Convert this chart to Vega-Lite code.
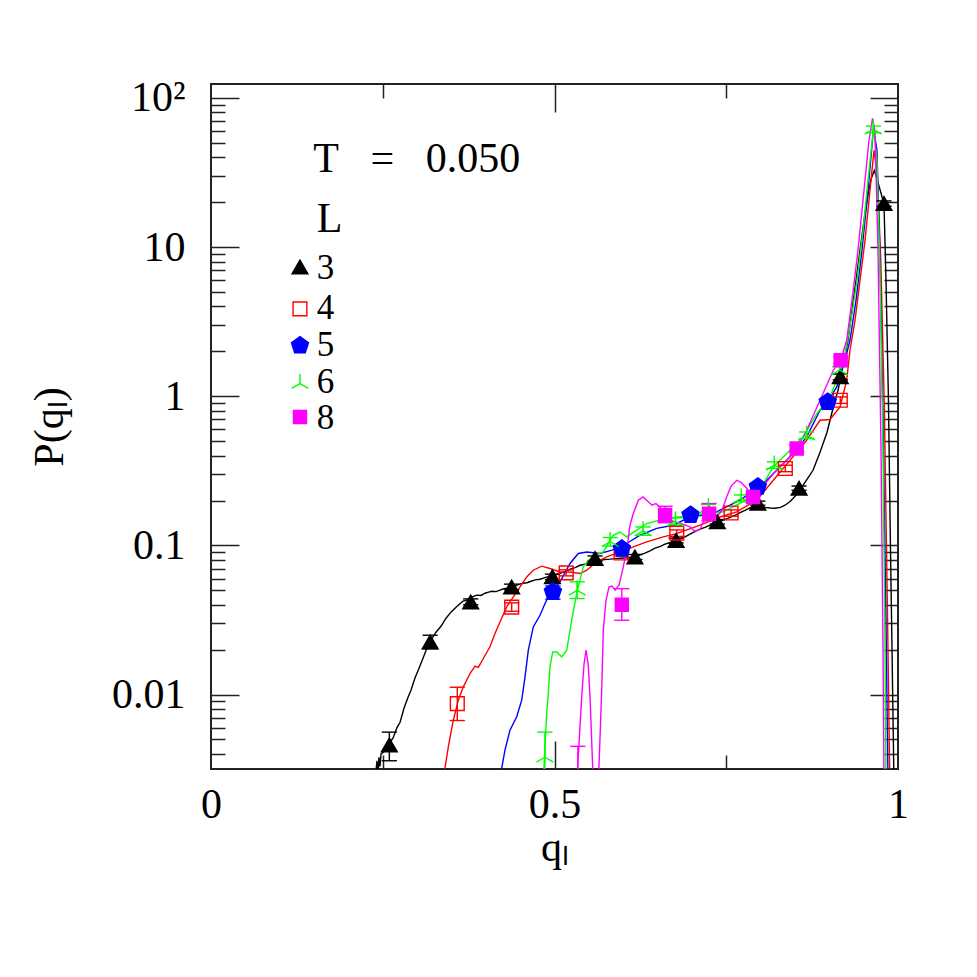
{
  "$schema": "https://vega.github.io/schema/vega-lite/v6.json",
  "width": 687,
  "height": 685,
  "autosize": {"type": "none"},
  "padding": {"left": 211, "top": 84, "right": 79, "bottom": 208},
  "background": "white",
  "config": {
    "view": {"stroke": "#222222", "strokeWidth": 2},
    "axis": {"domain": false, "grid": false, "tickColor": "#222222", "tickWidth": 1.5, "labelFont": "Liberation Serif", "titleFont": "Liberation Serif", "labelColor": "#000000", "titleColor": "#000000", "titleFontWeight": "normal", "labelOverlap": false, "labelFlush": false, "labelBound": false}
  },
  "datasets": {
    "curves": [
      {"L":"3","q":0.2390,"P":0.0025},{"L":"3","q":0.2402,"P":0.0031},{"L":"3","q":0.2416,"P":0.0036},{"L":"3","q":0.2430,"P":0.0029},{"L":"3","q":0.2445,"P":0.0038},{"L":"3","q":0.2460,"P":0.0033},{"L":"3","q":0.2475,"P":0.0040},{"L":"3","q":0.2510,"P":0.0041},{"L":"3","q":0.2547,"P":0.0043},{"L":"3","q":0.2606,"P":0.0048},{"L":"3","q":0.2649,"P":0.0051},{"L":"3","q":0.2707,"P":0.0060},{"L":"3","q":0.2751,"P":0.0065},{"L":"3","q":0.2809,"P":0.0081},{"L":"3","q":0.2868,"P":0.0096},{"L":"3","q":0.2911,"P":0.0107},{"L":"3","q":0.2969,"P":0.0129},{"L":"3","q":0.3028,"P":0.0150},{"L":"3","q":0.3086,"P":0.0175},{"L":"3","q":0.3144,"P":0.0205},{"L":"3","q":0.3202,"P":0.0232},{"L":"3","q":0.3275,"P":0.0262},{"L":"3","q":0.3348,"P":0.0287},{"L":"3","q":0.3421,"P":0.0325},{"L":"3","q":0.3493,"P":0.0357},{"L":"3","q":0.3581,"P":0.0391},{"L":"3","q":0.3668,"P":0.0423},{"L":"3","q":0.3720,"P":0.0430},{"L":"3","q":0.3770,"P":0.0443},{"L":"3","q":0.3820,"P":0.0455},{"L":"3","q":0.3872,"P":0.0464},{"L":"3","q":0.3930,"P":0.0462},{"L":"3","q":0.3988,"P":0.0478},{"L":"3","q":0.4040,"P":0.0486},{"L":"3","q":0.4090,"P":0.0493},{"L":"3","q":0.4150,"P":0.0490},{"L":"3","q":0.4207,"P":0.0501},{"L":"3","q":0.4260,"P":0.0512},{"L":"3","q":0.4323,"P":0.0516},{"L":"3","q":0.4380,"P":0.0522},{"L":"3","q":0.4425,"P":0.0533},{"L":"3","q":0.4480,"P":0.0548},{"L":"3","q":0.4541,"P":0.0558},{"L":"3","q":0.4600,"P":0.0562},{"L":"3","q":0.4658,"P":0.0575},{"L":"3","q":0.4720,"P":0.0588},{"L":"3","q":0.4789,"P":0.0593},{"L":"3","q":0.4860,"P":0.0608},{"L":"3","q":0.4934,"P":0.0622},{"L":"3","q":0.5000,"P":0.0630},{"L":"3","q":0.5080,"P":0.0651},{"L":"3","q":0.5150,"P":0.0668},{"L":"3","q":0.5226,"P":0.0692},{"L":"3","q":0.5300,"P":0.0710},{"L":"3","q":0.5371,"P":0.0736},{"L":"3","q":0.5440,"P":0.0748},{"L":"3","q":0.5517,"P":0.0771},{"L":"3","q":0.5590,"P":0.0790},{"L":"3","q":0.5662,"P":0.0796},{"L":"3","q":0.5730,"P":0.0805},{"L":"3","q":0.5808,"P":0.0809},{"L":"3","q":0.5880,"P":0.0815},{"L":"3","q":0.5953,"P":0.0821},{"L":"3","q":0.6050,"P":0.0826},{"L":"3","q":0.6143,"P":0.0834},{"L":"3","q":0.6230,"P":0.0858},{"L":"3","q":0.6317,"P":0.0887},{"L":"3","q":0.6390,"P":0.0920},{"L":"3","q":0.6463,"P":0.0958},{"L":"3","q":0.6540,"P":0.0985},{"L":"3","q":0.6608,"P":0.1019},{"L":"3","q":0.6700,"P":0.1050},{"L":"3","q":0.6783,"P":0.1084},{"L":"3","q":0.6880,"P":0.1130},{"L":"3","q":0.6972,"P":0.1189},{"L":"3","q":0.7050,"P":0.1240},{"L":"3","q":0.7118,"P":0.1285},{"L":"3","q":0.7190,"P":0.1320},{"L":"3","q":0.7263,"P":0.1366},{"L":"3","q":0.7330,"P":0.1410},{"L":"3","q":0.7409,"P":0.1452},{"L":"3","q":0.7520,"P":0.1520},{"L":"3","q":0.7627,"P":0.1592},{"L":"3","q":0.7700,"P":0.1660},{"L":"3","q":0.7773,"P":0.1720},{"L":"3","q":0.7850,"P":0.1790},{"L":"3","q":0.7918,"P":0.1830},{"L":"3","q":0.8000,"P":0.1820},{"L":"3","q":0.8064,"P":0.1800},{"L":"3","q":0.8140,"P":0.1780},{"L":"3","q":0.8210,"P":0.1775},{"L":"3","q":0.8290,"P":0.1800},{"L":"3","q":0.8355,"P":0.1860},{"L":"3","q":0.8430,"P":0.1970},{"L":"3","q":0.8501,"P":0.2137},{"L":"3","q":0.8570,"P":0.2350},{"L":"3","q":0.8646,"P":0.2650},{"L":"3","q":0.8763,"P":0.3190},{"L":"3","q":0.8865,"P":0.4215},{"L":"3","q":0.8967,"P":0.5740},{"L":"3","q":0.9054,"P":0.8310},{"L":"3","q":0.9127,"P":1.097},{"L":"3","q":0.9199,"P":1.614},{"L":"3","q":0.9272,"P":2.374},{"L":"3","q":0.9330,"P":3.77},{"L":"3","q":0.9389,"P":5.99},{"L":"3","q":0.9447,"P":9.52},{"L":"3","q":0.9505,"P":15.1},{"L":"3","q":0.9563,"P":22.2},{"L":"3","q":0.9607,"P":28.5},{"L":"3","q":0.9656,"P":32.7},{"L":"3","q":0.9720,"P":26.0},{"L":"3","q":0.9796,"P":19.6},{"L":"3","q":0.9825,"P":6.0},{"L":"3","q":0.9860,"P":1.0},{"L":"3","q":0.9890,"P":0.10},{"L":"3","q":0.9913,"P":0.020},{"L":"3","q":0.9940,"P":0.0028},
      {"L":"4","q":0.3390,"P":0.0025},{"L":"4","q":0.3406,"P":0.0032},{"L":"4","q":0.3454,"P":0.00446},{"L":"4","q":0.3527,"P":0.00673},{"L":"4","q":0.3600,"P":0.00917},{"L":"4","q":0.3673,"P":0.01127},{"L":"4","q":0.3770,"P":0.01384},{"L":"4","q":0.3843,"P":0.0155},{"L":"4","q":0.3891,"P":0.0152},{"L":"4","q":0.3964,"P":0.01746},{"L":"4","q":0.4061,"P":0.0209},{"L":"4","q":0.4134,"P":0.0257},{"L":"4","q":0.4207,"P":0.0307},{"L":"4","q":0.4304,"P":0.0387},{"L":"4","q":0.4400,"P":0.0452},{"L":"4","q":0.4498,"P":0.0527},{"L":"4","q":0.4595,"P":0.0615},{"L":"4","q":0.4691,"P":0.0682},{"L":"4","q":0.4814,"P":0.0726},{"L":"4","q":0.4934,"P":0.0700},{"L":"4","q":0.5080,"P":0.0664},{"L":"4","q":0.5226,"P":0.0664},{"L":"4","q":0.5371,"P":0.0648},{"L":"4","q":0.5469,"P":0.0682},{"L":"4","q":0.5614,"P":0.0775},{"L":"4","q":0.5760,"P":0.0837},{"L":"4","q":0.5953,"P":0.0904},{"L":"4","q":0.6147,"P":0.0977},{"L":"4","q":0.6342,"P":0.1055},{"L":"4","q":0.6584,"P":0.114},{"L":"4","q":0.6779,"P":0.120},{"L":"4","q":0.7118,"P":0.1366},{"L":"4","q":0.7409,"P":0.155},{"L":"4","q":0.7652,"P":0.168},{"L":"4","q":0.7943,"P":0.201},{"L":"4","q":0.8185,"P":0.2735},{"L":"4","q":0.8428,"P":0.3724},{"L":"4","q":0.8671,"P":0.507},{"L":"4","q":0.8865,"P":0.690},{"L":"4","q":0.9010,"P":0.698},{"L":"4","q":0.9156,"P":0.848},{"L":"4","q":0.9253,"P":1.28},{"L":"4","q":0.9301,"P":2.03},{"L":"4","q":0.9374,"P":3.23},{"L":"4","q":0.9447,"P":5.99},{"L":"4","q":0.9520,"P":11.1},{"L":"4","q":0.9592,"P":24.0},{"L":"4","q":0.9651,"P":44.6},{"L":"4","q":0.9700,"P":30.0},{"L":"4","q":0.9750,"P":8.0},{"L":"4","q":0.9800,"P":0.9},{"L":"4","q":0.9845,"P":0.04},{"L":"4","q":0.9880,"P":0.0028},
      {"L":"5","q":0.4221,"P":0.0026},{"L":"5","q":0.4231,"P":0.0032},{"L":"5","q":0.4279,"P":0.00424},{"L":"5","q":0.4352,"P":0.00577},{"L":"5","q":0.4450,"P":0.0071},{"L":"5","q":0.4523,"P":0.00917},{"L":"5","q":0.4571,"P":0.01315},{"L":"5","q":0.4619,"P":0.01985},{"L":"5","q":0.4691,"P":0.0284},{"L":"5","q":0.4789,"P":0.0340},{"L":"5","q":0.4862,"P":0.0408},{"L":"5","q":0.4934,"P":0.0476},{"L":"5","q":0.5080,"P":0.0569},{"L":"5","q":0.5226,"P":0.0757},{"L":"5","q":0.5346,"P":0.0883},{"L":"5","q":0.5469,"P":0.0904},{"L":"5","q":0.5662,"P":0.0883},{"L":"5","q":0.5837,"P":0.0929},{"L":"5","q":0.6051,"P":0.103},{"L":"5","q":0.6245,"P":0.117},{"L":"5","q":0.6488,"P":0.130},{"L":"5","q":0.6729,"P":0.1366},{"L":"5","q":0.6972,"P":0.155},{"L":"5","q":0.7312,"P":0.1637},{"L":"5","q":0.7700,"P":0.201},{"L":"5","q":0.7991,"P":0.2466},{"L":"5","q":0.8234,"P":0.319},{"L":"5","q":0.8476,"P":0.413},{"L":"5","q":0.8671,"P":0.534},{"L":"5","q":0.8865,"P":0.805},{"L":"5","q":0.8977,"P":0.916},{"L":"5","q":0.9108,"P":1.154},{"L":"5","q":0.9229,"P":1.742},{"L":"5","q":0.9301,"P":2.374},{"L":"5","q":0.9389,"P":4.40},{"L":"5","q":0.9476,"P":9.52},{"L":"5","q":0.9563,"P":24.0},{"L":"5","q":0.9643,"P":62.0},{"L":"5","q":0.9694,"P":44.6},{"L":"5","q":0.9738,"P":8.16},{"L":"5","q":0.9782,"P":0.69},{"L":"5","q":0.9825,"P":0.0315},{"L":"5","q":0.9854,"P":0.0028},
      {"L":"6","q":0.4840,"P":0.0026},{"L":"6","q":0.4847,"P":0.00328},{"L":"6","q":0.4886,"P":0.00747},{"L":"6","q":0.4910,"P":0.01016},{"L":"6","q":0.4934,"P":0.01534},{"L":"6","q":0.4974,"P":0.0193},{"L":"6","q":0.5032,"P":0.0193},{"L":"6","q":0.5105,"P":0.0179},{"L":"6","q":0.5178,"P":0.01985},{"L":"6","q":0.5250,"P":0.0315},{"L":"6","q":0.5323,"P":0.0476},{"L":"6","q":0.5371,"P":0.0585},{"L":"6","q":0.5419,"P":0.0718},{"L":"6","q":0.5492,"P":0.0796},{"L":"6","q":0.5590,"P":0.0859},{"L":"6","q":0.5710,"P":0.0904},{"L":"6","q":0.5856,"P":0.117},{"L":"6","q":0.5953,"P":0.123},{"L":"6","q":0.6051,"P":0.114},{"L":"6","q":0.6197,"P":0.1265},{"L":"6","q":0.6342,"P":0.140},{"L":"6","q":0.6536,"P":0.148},{"L":"6","q":0.6779,"P":0.1545},{"L":"6","q":0.7020,"P":0.1592},{"L":"6","q":0.7215,"P":0.1637},{"L":"6","q":0.7457,"P":0.168},{"L":"6","q":0.7700,"P":0.191},{"L":"6","q":0.7894,"P":0.223},{"L":"6","q":0.8039,"P":0.260},{"L":"6","q":0.8185,"P":0.336},{"L":"6","q":0.8380,"P":0.413},{"L":"6","q":0.8622,"P":0.534},{"L":"6","q":0.8817,"P":0.766},{"L":"6","q":0.9010,"P":0.989},{"L":"6","q":0.9108,"P":1.28},{"L":"6","q":0.9229,"P":1.93},{"L":"6","q":0.9316,"P":3.23},{"L":"6","q":0.9403,"P":5.99},{"L":"6","q":0.9491,"P":12.97},{"L":"6","q":0.9563,"P":28.0},{"L":"6","q":0.9643,"P":62.5},{"L":"6","q":0.9694,"P":38.2},{"L":"6","q":0.9738,"P":7.0},{"L":"6","q":0.9782,"P":0.435},{"L":"6","q":0.9811,"P":0.0199},{"L":"6","q":0.9825,"P":0.0028},
      {"L":"8","q":0.5323,"P":0.0025},{"L":"8","q":0.5396,"P":0.00966},{"L":"8","q":0.5430,"P":0.0160},{"L":"8","q":0.5459,"P":0.0199},{"L":"8","q":0.5490,"P":0.0160},{"L":"8","q":0.5517,"P":0.00966},{"L":"8","q":0.5565,"P":0.0025},{"L":"8","q":0.5638,"P":0.0025},{"L":"8","q":0.5687,"P":0.0107},{"L":"8","q":0.5710,"P":0.0270},{"L":"8","q":0.5750,"P":0.0429},{"L":"8","q":0.5793,"P":0.0525},{"L":"8","q":0.5837,"P":0.0533},{"L":"8","q":0.5881,"P":0.0501},{"L":"8","q":0.5939,"P":0.0541},{"L":"8","q":0.6001,"P":0.0718},{"L":"8","q":0.6051,"P":0.0929},{"L":"8","q":0.6099,"P":0.1366},{"L":"8","q":0.6147,"P":0.1637},{"L":"8","q":0.6220,"P":0.201},{"L":"8","q":0.6288,"P":0.2113},{"L":"8","q":0.6365,"P":0.196},{"L":"8","q":0.6419,"P":0.186},{"L":"8","q":0.6477,"P":0.191},{"L":"8","q":0.6536,"P":0.180},{"L":"8","q":0.6608,"P":0.159},{"L":"8","q":0.6729,"P":0.145},{"L":"8","q":0.6827,"P":0.141},{"L":"8","q":0.6972,"P":0.133},{"L":"8","q":0.7045,"P":0.1245},{"L":"8","q":0.7118,"P":0.1285},{"L":"8","q":0.7191,"P":0.152},{"L":"8","q":0.7253,"P":0.1637},{"L":"8","q":0.7361,"P":0.155},{"L":"8","q":0.7438,"P":0.172},{"L":"8","q":0.7506,"P":0.2113},{"L":"8","q":0.7569,"P":0.249},{"L":"8","q":0.7652,"P":0.2735},{"L":"8","q":0.7715,"P":0.265},{"L":"8","q":0.7798,"P":0.2417},{"L":"8","q":0.7894,"P":0.2113},{"L":"8","q":0.7991,"P":0.2344},{"L":"8","q":0.8185,"P":0.303},{"L":"8","q":0.8380,"P":0.3724},{"L":"8","q":0.8525,"P":0.446},{"L":"8","q":0.8671,"P":0.592},{"L":"8","q":0.8865,"P":0.94},{"L":"8","q":0.9058,"P":1.494},{"L":"8","q":0.9166,"P":1.742},{"L":"8","q":0.9253,"P":2.374},{"L":"8","q":0.9330,"P":4.40},{"L":"8","q":0.9418,"P":9.52},{"L":"8","q":0.9505,"P":24.0},{"L":"8","q":0.9578,"P":52.0},{"L":"8","q":0.9629,"P":73.0},{"L":"8","q":0.9665,"P":60.0},{"L":"8","q":0.9709,"P":9.52},{"L":"8","q":0.9753,"P":0.435},{"L":"8","q":0.9782,"P":0.0199},{"L":"8","q":0.9796,"P":0.0025}
    ],
    "pts": [
      {"L":"3","q":0.2596,"P":0.0046,"lo":0.0036,"hi":0.0056},
      {"L":"3","q":0.3190,"P":0.0225,"lo":0.0203,"hi":0.0250},
      {"L":"3","q":0.3780,"P":0.0418,"lo":0.0400,"hi":0.0438},
      {"L":"3","q":0.4376,"P":0.0527,"lo":0.0505,"hi":0.0550},
      {"L":"3","q":0.4970,"P":0.0616,"lo":0.0590,"hi":0.0642},
      {"L":"3","q":0.5590,"P":0.0817,"lo":0.0785,"hi":0.0850},
      {"L":"3","q":0.6170,"P":0.0837,"lo":0.0805,"hi":0.0870},
      {"L":"3","q":0.6770,"P":0.108,"lo":0.104,"hi":0.112},
      {"L":"3","q":0.7370,"P":0.144,"lo":0.139,"hi":0.149},
      {"L":"3","q":0.7960,"P":0.192,"lo":0.186,"hi":0.198},
      {"L":"3","q":0.8560,"P":0.242,"lo":0.234,"hi":0.250},
      {"L":"3","q":0.9160,"P":1.35,"lo":1.29,"hi":1.41},
      {"L":"3","q":0.9796,"P":19.6,"lo":18.8,"hi":20.4},
      {"L":"4","q":0.3585,"P":0.0087,"lo":0.0067,"hi":0.0112},
      {"L":"4","q":0.4377,"P":0.0386,"lo":0.0362,"hi":0.0412},
      {"L":"4","q":0.5170,"P":0.0655,"lo":0.0625,"hi":0.0686},
      {"L":"4","q":0.5970,"P":0.0890,"lo":0.0850,"hi":0.0930},
      {"L":"4","q":0.6780,"P":0.121,"lo":0.115,"hi":0.127},
      {"L":"4","q":0.7570,"P":0.165,"lo":0.157,"hi":0.173},
      {"L":"4","q":0.8360,"P":0.328,"lo":0.312,"hi":0.345},
      {"L":"4","q":0.9160,"P":0.94,"lo":0.895,"hi":0.99},
      {"L":"5","q":0.4977,"P":0.0488,"lo":0.0436,"hi":0.0535},
      {"L":"5","q":0.5980,"P":0.095,"lo":0.090,"hi":0.100},
      {"L":"5","q":0.6980,"P":0.160,"lo":0.153,"hi":0.168},
      {"L":"5","q":0.7960,"P":0.247,"lo":0.236,"hi":0.258},
      {"L":"5","q":0.8977,"P":0.916,"lo":0.875,"hi":0.96},
      {"L":"6","q":0.4860,"P":0.0038,"lo":0.0025,"hi":0.0056},
      {"L":"6","q":0.5330,"P":0.050,"lo":0.044,"hi":0.057},
      {"L":"6","q":0.5810,"P":0.106,"lo":0.099,"hi":0.113},
      {"L":"6","q":0.6290,"P":0.125,"lo":0.117,"hi":0.133},
      {"L":"6","q":0.6760,"P":0.145,"lo":0.137,"hi":0.153},
      {"L":"6","q":0.7240,"P":0.178,"lo":0.169,"hi":0.188},
      {"L":"6","q":0.7720,"P":0.207,"lo":0.196,"hi":0.218},
      {"L":"6","q":0.8200,"P":0.345,"lo":0.328,"hi":0.363},
      {"L":"6","q":0.8670,"P":0.548,"lo":0.521,"hi":0.576},
      {"L":"6","q":0.9150,"P":1.50,"lo":1.42,"hi":1.58},
      {"L":"6","q":0.9640,"P":61.6,"lo":58.5,"hi":64.8},
      {"L":"8","q":0.5340,"P":0.0025,"lo":0.0015,"hi":0.0045},
      {"L":"8","q":0.5980,"P":0.040,"lo":0.0315,"hi":0.0513},
      {"L":"8","q":0.6610,"P":0.160,"lo":0.142,"hi":0.183},
      {"L":"8","q":0.7250,"P":0.163,"lo":0.146,"hi":0.191},
      {"L":"8","q":0.7890,"P":0.211,"lo":0.200,"hi":0.222},
      {"L":"8","q":0.8525,"P":0.446,"lo":0.425,"hi":0.468},
      {"L":"8","q":0.9166,"P":1.742,"lo":1.66,"hi":1.83}
    ],
    "legendSymbols": [
      {"L":"3","q":0.1295,"P":7.36},
      {"L":"4","q":0.1295,"P":3.85},
      {"L":"5","q":0.1295,"P":2.187},
      {"L":"6","q":0.1295,"P":1.216},
      {"L":"8","q":0.1295,"P":0.727}
    ],
    "legendHead": [
      {"q":0.1489,"P":38.7,"label":"T\u00a0\u00a0\u00a0=\u00a0\u00a0\u00a00.050"},
      {"q":0.1538,"P":15.5,"label":"L"}
    ],
    "legendDigits": [
      {"q":0.1538,"P":7.21,"label":"3"},
      {"q":0.1538,"P":3.89,"label":"4"},
      {"q":0.1538,"P":2.197,"label":"5"},
      {"q":0.1538,"P":1.241,"label":"6"},
      {"q":0.1538,"P":0.712,"label":"8"}
    ]
  },
  "resolve": {"axis": {"x": "independent", "y": "independent"}},
  "layer": [
    {
      "data": {"name": "curves"},
      "mark": {"type": "line", "clip": true, "strokeWidth": 1.4},
      "encoding": {
        "x": {"field": "q", "type": "quantitative", "scale": {"domain": [0, 1], "nice": false, "zero": false},
          "axis": {"orient": "bottom", "values": [0, 0.5, 1], "ticks": false, "tickSize": 0, "labelPadding": 15, "labelFontSize": 42, "labelExpr": "datum.value == 0 ? '0' : datum.value == 1 ? '1' : '0.5'", "title": "qₗ", "titleFontSize": 42, "titlePadding": 2}},
        "y": {"field": "P", "type": "quantitative", "scale": {"type": "log", "domain": [0.00317, 124], "nice": false},
          "axis": {"orient": "left", "values": [0.01, 0.1, 1, 10, 100], "ticks": false, "tickSize": 0, "labelPadding": 26, "labelFontSize": 42, "labelExpr": "datum.value > 50 ? '10²' : datum.value > 5 ? '10' : datum.value > 0.5 ? '1' : datum.value > 0.05 ? '0.1' : '0.01'", "title": "P(qₗ)", "titleFontSize": 42, "titlePadding": 40}},
        "stroke": {"field": "L", "type": "nominal", "scale": {"domain": ["3", "4", "5", "6", "8"], "range": ["#000000", "#ff0000", "#0000ff", "#00ff00", "#ff00ff"]}, "legend": null}
      }
    },
    {
      "data": {"name": "pts"},
      "mark": {"type": "rule", "clip": true, "strokeWidth": 1.4},
      "encoding": {
        "x": {"field": "q", "type": "quantitative", "scale": {"domain": [0, 1], "nice": false, "zero": false},
          "axis": {"orient": "bottom", "values": [0.5], "labels": false, "ticks": true, "tickSize": -28, "title": null}},
        "y": {"field": "lo", "type": "quantitative", "scale": {"type": "log", "domain": [0.00317, 124], "nice": false},
          "axis": {"orient": "left", "values": [0.01, 0.1, 1, 10, 100], "labels": false, "ticks": true, "tickSize": -28, "title": null}},
        "y2": {"field": "hi"},
        "stroke": {"field": "L", "type": "nominal", "scale": {"domain": ["3", "4", "5", "6", "8"], "range": ["#000000", "#ff0000", "#0000ff", "#00ff00", "#ff00ff"]}, "legend": null}
      }
    },
    {
      "data": {"name": "pts"},
      "mark": {"type": "point", "clip": true, "filled": false, "opacity": 1, "strokeWidth": 1.4, "shape": "M-1,0L1,0", "size": 230},
      "encoding": {
        "x": {"field": "q", "type": "quantitative", "scale": {"domain": [0, 1], "nice": false, "zero": false},
          "axis": {"orient": "bottom", "values": [0.25, 0.75], "labels": false, "ticks": true, "tickSize": -14, "title": null}},
        "y": {"field": "lo", "type": "quantitative", "scale": {"type": "log", "domain": [0.00317, 124], "nice": false},
          "axis": {"orient": "left", "values": [0.004, 0.005, 0.006, 0.007, 0.008, 0.009, 0.02, 0.03, 0.04, 0.05, 0.06, 0.07, 0.08, 0.09, 0.2, 0.3, 0.4, 0.5, 0.6, 0.7, 0.8, 0.9, 2, 3, 4, 5, 6, 7, 8, 9, 20, 30, 40, 50, 60, 70, 80, 90], "labels": false, "ticks": true, "tickSize": -14, "title": null}},
        "stroke": {"field": "L", "type": "nominal", "scale": {"domain": ["3", "4", "5", "6", "8"], "range": ["#000000", "#ff0000", "#0000ff", "#00ff00", "#ff00ff"]}, "legend": null}
      }
    },
    {
      "data": {"name": "pts"},
      "mark": {"type": "point", "clip": true, "filled": false, "opacity": 1, "strokeWidth": 1.4, "shape": "M-1,0L1,0", "size": 230},
      "encoding": {
        "x": {"field": "q", "type": "quantitative", "scale": {"domain": [0, 1], "nice": false, "zero": false},
          "axis": {"orient": "top", "values": [0.5], "labels": false, "ticks": true, "tickSize": -28, "title": null}},
        "y": {"field": "hi", "type": "quantitative", "scale": {"type": "log", "domain": [0.00317, 124], "nice": false},
          "axis": {"orient": "right", "values": [0.01, 0.1, 1, 10, 100], "labels": false, "ticks": true, "tickSize": -28, "title": null}},
        "stroke": {"field": "L", "type": "nominal", "scale": {"domain": ["3", "4", "5", "6", "8"], "range": ["#000000", "#ff0000", "#0000ff", "#00ff00", "#ff00ff"]}, "legend": null}
      }
    },
    {
      "data": {"name": "pts"},
      "mark": {"type": "point", "clip": true, "opacity": 1, "strokeWidth": 1.4},
      "encoding": {
        "x": {"field": "q", "type": "quantitative", "scale": {"domain": [0, 1], "nice": false, "zero": false},
          "axis": {"orient": "top", "values": [0.25, 0.75], "labels": false, "ticks": true, "tickSize": -14, "title": null}},
        "y": {"field": "P", "type": "quantitative", "scale": {"type": "log", "domain": [0.00317, 124], "nice": false},
          "axis": {"orient": "right", "values": [0.004, 0.005, 0.006, 0.007, 0.008, 0.009, 0.02, 0.03, 0.04, 0.05, 0.06, 0.07, 0.08, 0.09, 0.2, 0.3, 0.4, 0.5, 0.6, 0.7, 0.8, 0.9, 2, 3, 4, 5, 6, 7, 8, 9, 20, 30, 40, 50, 60, 70, 80, 90], "labels": false, "ticks": true, "tickSize": -14, "title": null}},
        "shape": {"field": "L", "type": "nominal", "scale": {"domain": ["3", "4", "5", "6", "8"], "range": ["triangle-up", "square", "M0,-1L0.951,-0.309L0.588,0.809L-0.588,0.809L-0.951,-0.309Z", "M0,0L0,-1M0,0L-0.866,0.5M0,0L0.866,0.5", "square"]}, "legend": null},
        "fill": {"field": "L", "type": "nominal", "scale": {"domain": ["3", "4", "5", "6", "8"], "range": ["#000000", "transparent", "#0000ff", "transparent", "#ff00ff"]}, "legend": null},
        "stroke": {"field": "L", "type": "nominal", "scale": {"domain": ["3", "4", "5", "6", "8"], "range": ["#000000", "#ff0000", "#0000ff", "#00ff00", "#ff00ff"]}, "legend": null},
        "size": {"field": "L", "type": "ordinal", "scale": {"type": "ordinal", "domain": ["3", "4", "5", "6", "8"], "range": [250, 190, 320, 380, 170]}, "legend": null}
      }
    },
    {
      "data": {"name": "legendSymbols"},
      "mark": {"type": "point", "clip": false, "opacity": 1, "strokeWidth": 1.4},
      "encoding": {
        "x": {"field": "q", "type": "quantitative", "scale": {"domain": [0, 1], "nice": false, "zero": false}, "axis": null},
        "y": {"field": "P", "type": "quantitative", "scale": {"type": "log", "domain": [0.00317, 124], "nice": false}, "axis": null},
        "shape": {"field": "L", "type": "nominal", "scale": {"domain": ["3", "4", "5", "6", "8"], "range": ["triangle-up", "square", "M0,-1L0.951,-0.309L0.588,0.809L-0.588,0.809L-0.951,-0.309Z", "M0,0L0,-1M0,0L-0.866,0.5M0,0L0.866,0.5", "square"]}, "legend": null},
        "fill": {"field": "L", "type": "nominal", "scale": {"domain": ["3", "4", "5", "6", "8"], "range": ["#000000", "transparent", "#0000ff", "transparent", "#ff00ff"]}, "legend": null},
        "stroke": {"field": "L", "type": "nominal", "scale": {"domain": ["3", "4", "5", "6", "8"], "range": ["#000000", "#ff0000", "#0000ff", "#00ff00", "#ff00ff"]}, "legend": null},
        "size": {"field": "L", "type": "ordinal", "scale": {"type": "ordinal", "domain": ["3", "4", "5", "6", "8"], "range": [250, 190, 320, 380, 170]}, "legend": null}
      }
    },
    {
      "data": {"name": "legendHead"},
      "mark": {"type": "text", "align": "left", "baseline": "middle", "font": "Liberation Serif", "fontSize": 42, "color": "#000000"},
      "encoding": {
        "x": {"field": "q", "type": "quantitative", "scale": {"domain": [0, 1], "nice": false, "zero": false}, "axis": null},
        "y": {"field": "P", "type": "quantitative", "scale": {"type": "log", "domain": [0.00317, 124], "nice": false}, "axis": null},
        "text": {"field": "label", "type": "nominal"}
      }
    },
    {
      "data": {"name": "legendDigits"},
      "mark": {"type": "text", "align": "left", "baseline": "middle", "font": "Liberation Serif", "fontSize": 35, "color": "#000000"},
      "encoding": {
        "x": {"field": "q", "type": "quantitative", "scale": {"domain": [0, 1], "nice": false, "zero": false}, "axis": null},
        "y": {"field": "P", "type": "quantitative", "scale": {"type": "log", "domain": [0.00317, 124], "nice": false}, "axis": null},
        "text": {"field": "label", "type": "nominal"}
      }
    }
  ]
}
